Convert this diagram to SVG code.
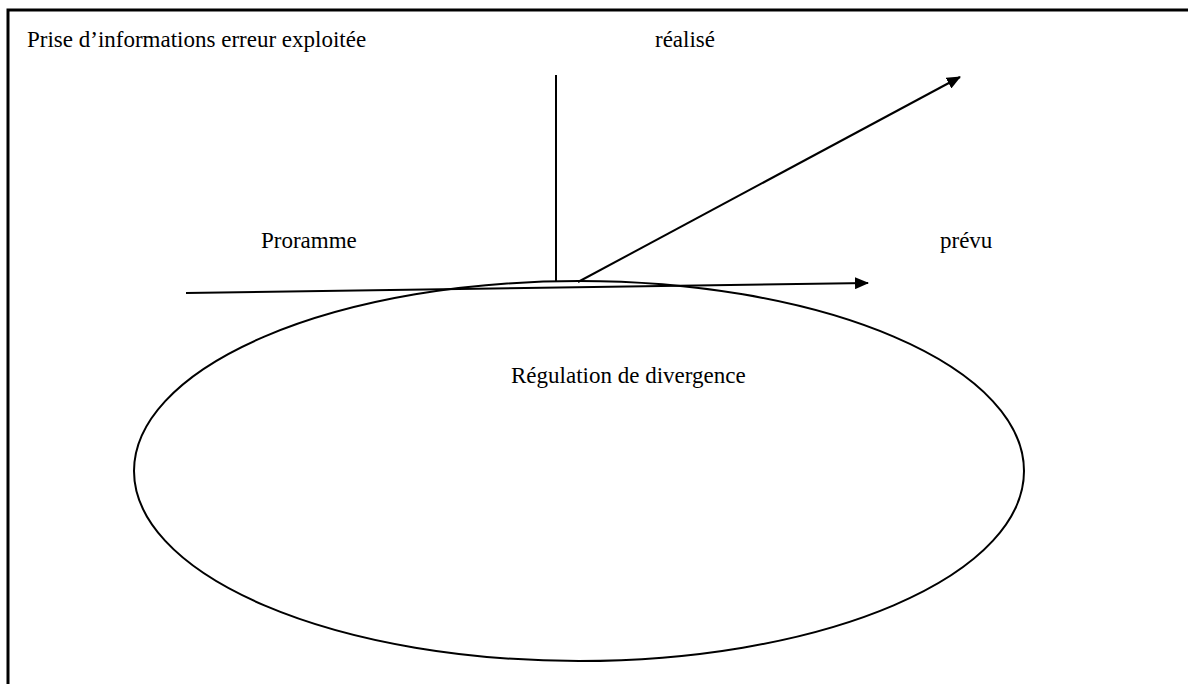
<svg xmlns="http://www.w3.org/2000/svg" width="1188" height="684" viewBox="0 0 1188 684">
  <style>
    .lbl { font-family: "Liberation Serif", "Times New Roman", serif; font-size: 23px; fill: #000; }
    .ln { stroke: #000; stroke-width: 2; fill: none; }
  </style>
  <defs>
    <marker id="head" viewBox="0 0 14 12" refX="13" refY="6" markerWidth="14" markerHeight="12" markerUnits="userSpaceOnUse" orient="auto">
      <path d="M0,0 L14,6 L0,12 Z" fill="#000"/>
    </marker>
  </defs>
  <rect width="1188" height="684" fill="#fff"/>
  <!-- open frame: top and left edges -->
  <path d="M1188,10 H8 V684" stroke="#000" stroke-width="3" fill="none"/>

  <g id="title"><text class="lbl" x="27" y="47">Prise d’informations erreur exploitée</text></g>
  <g id="realise"><text class="lbl" x="655" y="47">réalisé</text></g>
  <g id="programme"><text class="lbl" x="261" y="248">Proramme</text></g>
  <g id="prevu"><text class="lbl" x="940" y="248">prévu</text></g>

  <g id="regulation">
    <ellipse class="ln" cx="579" cy="471" rx="445" ry="190"/>
    <text class="lbl" x="511" y="383">Régulation de divergence</text>
  </g>

  <g id="connectors">
    <line class="ln" x1="556" y1="75" x2="556" y2="282"/>
    <line class="ln" x1="578" y1="282" x2="960" y2="77" marker-end="url(#head)"/>
    <line class="ln" x1="186" y1="293" x2="868" y2="283" marker-end="url(#head)"/>
  </g>
</svg>
